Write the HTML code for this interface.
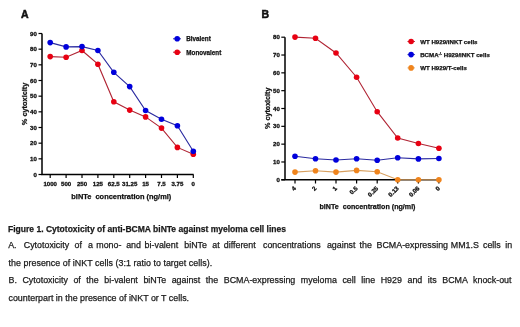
<!DOCTYPE html>
<html><head><meta charset="utf-8"><style>
html,body{margin:0;padding:0;background:#fff;width:520px;height:327px;overflow:hidden}
#wrap{position:absolute;left:0;top:0;width:520px;height:327px;filter:blur(0.3px)}
svg{position:absolute;left:0;top:0}
text{font-family:"Liberation Sans",sans-serif;fill:#111;stroke:#111;stroke-width:0.25px;paint-order:stroke}
.tk{font-size:6.1px;font-weight:bold;stroke-width:0.3px}
.pl{font-size:10.5px;font-weight:bold;stroke-width:0.5px}
.at{font-size:6.6px;font-weight:bold}
.xt{font-size:7.2px;font-weight:bold}
.lg{font-size:6.3px;font-weight:bold}
.lgb{font-size:6.15px;font-weight:bold}
.cap{position:absolute;left:8.5px;font-family:"Liberation Sans",sans-serif;font-size:8.9px;color:#1a1a1a;white-space:nowrap;line-height:10px;-webkit-text-stroke:0.25px #1a1a1a}
.j{width:503px;text-align:justify;text-align-last:justify;white-space:normal}
</style></head><body><div id="wrap">
<svg width="520" height="327" viewBox="0 0 520 327">
<path d="M42,33.5V174.5H193.6" fill="none" stroke="#000" stroke-width="1.5"/><path d="M38.5,174.50H42" stroke="#000" stroke-width="1.2"/><text x="36.9" y="176.60" text-anchor="end" class="tk">0</text><path d="M38.5,158.83H42" stroke="#000" stroke-width="1.2"/><text x="36.9" y="160.93" text-anchor="end" class="tk">10</text><path d="M38.5,143.17H42" stroke="#000" stroke-width="1.2"/><text x="36.9" y="145.27" text-anchor="end" class="tk">20</text><path d="M38.5,127.50H42" stroke="#000" stroke-width="1.2"/><text x="36.9" y="129.60" text-anchor="end" class="tk">30</text><path d="M38.5,111.83H42" stroke="#000" stroke-width="1.2"/><text x="36.9" y="113.93" text-anchor="end" class="tk">40</text><path d="M38.5,96.17H42" stroke="#000" stroke-width="1.2"/><text x="36.9" y="98.27" text-anchor="end" class="tk">50</text><path d="M38.5,80.50H42" stroke="#000" stroke-width="1.2"/><text x="36.9" y="82.60" text-anchor="end" class="tk">60</text><path d="M38.5,64.83H42" stroke="#000" stroke-width="1.2"/><text x="36.9" y="66.93" text-anchor="end" class="tk">70</text><path d="M38.5,49.17H42" stroke="#000" stroke-width="1.2"/><text x="36.9" y="51.27" text-anchor="end" class="tk">80</text><path d="M38.5,33.50H42" stroke="#000" stroke-width="1.2"/><text x="36.9" y="35.60" text-anchor="end" class="tk">90</text><path d="M50.2,174.5V178" stroke="#000" stroke-width="1.2"/><text x="50.2" y="185.6" text-anchor="middle" class="tk">1000</text><path d="M66.1,174.5V178" stroke="#000" stroke-width="1.2"/><text x="66.1" y="185.6" text-anchor="middle" class="tk">500</text><path d="M82.0,174.5V178" stroke="#000" stroke-width="1.2"/><text x="82.0" y="185.6" text-anchor="middle" class="tk">250</text><path d="M97.9,174.5V178" stroke="#000" stroke-width="1.2"/><text x="97.9" y="185.6" text-anchor="middle" class="tk">125</text><path d="M113.8,174.5V178" stroke="#000" stroke-width="1.2"/><text x="113.8" y="185.6" text-anchor="middle" class="tk">62.5</text><path d="M129.7,174.5V178" stroke="#000" stroke-width="1.2"/><text x="129.7" y="185.6" text-anchor="middle" class="tk">31.25</text><path d="M145.6,174.5V178" stroke="#000" stroke-width="1.2"/><text x="145.6" y="185.6" text-anchor="middle" class="tk">15</text><path d="M161.5,174.5V178" stroke="#000" stroke-width="1.2"/><text x="161.5" y="185.6" text-anchor="middle" class="tk">7.5</text><path d="M177.4,174.5V178" stroke="#000" stroke-width="1.2"/><text x="177.4" y="185.6" text-anchor="middle" class="tk">3.75</text><path d="M193.3,174.5V178" stroke="#000" stroke-width="1.2"/><text x="193.3" y="185.6" text-anchor="middle" class="tk">0</text><polyline points="50.2,56.6 66.1,57.2 82.0,50.5 97.9,64.2 113.8,101.8 129.7,110.1 145.6,116.9 161.5,128.1 177.4,147.4 193.3,154.2" fill="none" stroke="#b02434" stroke-width="1.1"/><circle cx="50.2" cy="56.6" r="2.8" fill="#e80012"/><circle cx="66.1" cy="57.2" r="2.8" fill="#e80012"/><circle cx="82.0" cy="50.5" r="2.8" fill="#e80012"/><circle cx="97.9" cy="64.2" r="2.8" fill="#e80012"/><circle cx="113.8" cy="101.8" r="2.8" fill="#e80012"/><circle cx="129.7" cy="110.1" r="2.8" fill="#e80012"/><circle cx="145.6" cy="116.9" r="2.8" fill="#e80012"/><circle cx="161.5" cy="128.1" r="2.8" fill="#e80012"/><circle cx="177.4" cy="147.4" r="2.8" fill="#e80012"/><circle cx="193.3" cy="154.2" r="2.8" fill="#e80012"/><polyline points="50.2,42.6 66.1,46.9 82.0,46.6 97.9,50.5 113.8,72.3 129.7,86.6 145.6,110.5 161.5,119.2 177.4,125.7 193.3,151.3" fill="none" stroke="#2a2aa0" stroke-width="1.1"/><circle cx="50.2" cy="42.6" r="2.8" fill="#0000dc"/><circle cx="66.1" cy="46.9" r="2.8" fill="#0000dc"/><circle cx="82.0" cy="46.6" r="2.8" fill="#0000dc"/><circle cx="97.9" cy="50.5" r="2.8" fill="#0000dc"/><circle cx="113.8" cy="72.3" r="2.8" fill="#0000dc"/><circle cx="129.7" cy="86.6" r="2.8" fill="#0000dc"/><circle cx="145.6" cy="110.5" r="2.8" fill="#0000dc"/><circle cx="161.5" cy="119.2" r="2.8" fill="#0000dc"/><circle cx="177.4" cy="125.7" r="2.8" fill="#0000dc"/><circle cx="193.3" cy="151.3" r="2.8" fill="#0000dc"/><text x="21" y="18" class="pl">A</text><text transform="translate(27.4,103.9) rotate(-90)" text-anchor="middle" class="at" style="font-size:7.4px" textLength="42.6" lengthAdjust="spacingAndGlyphs">% cytoxicity</text><text x="121.3" y="199.1" text-anchor="middle" class="xt" textLength="100" lengthAdjust="spacingAndGlyphs" xml:space="preserve">biNTe  concentration (ng/ml)</text><path d="M173,38.8H181" stroke="#2a2aa0" stroke-width="1"/><circle cx="177.2" cy="38.8" r="2.8" fill="#0000dc"/><path d="M173,52.2H181" stroke="#b02434" stroke-width="1"/><circle cx="177.2" cy="52.2" r="2.8" fill="#e80012"/><text x="186.3" y="41.1" class="lg">Bivalent</text><text x="186.3" y="54.5" class="lg">Monovalent</text><path d="M285,37.2V179.8M281.3,179.8H441" fill="none" stroke="#000" stroke-width="1.5"/><path d="M281.3,179.80H285" stroke="#000" stroke-width="1.2"/><text x="279.8" y="181.90" text-anchor="end" class="tk">0</text><path d="M281.3,161.98H285" stroke="#000" stroke-width="1.2"/><text x="279.8" y="164.08" text-anchor="end" class="tk">10</text><path d="M281.3,144.15H285" stroke="#000" stroke-width="1.2"/><text x="279.8" y="146.25" text-anchor="end" class="tk">20</text><path d="M281.3,126.33H285" stroke="#000" stroke-width="1.2"/><text x="279.8" y="128.43" text-anchor="end" class="tk">30</text><path d="M281.3,108.50H285" stroke="#000" stroke-width="1.2"/><text x="279.8" y="110.60" text-anchor="end" class="tk">40</text><path d="M281.3,90.67H285" stroke="#000" stroke-width="1.2"/><text x="279.8" y="92.77" text-anchor="end" class="tk">50</text><path d="M281.3,72.85H285" stroke="#000" stroke-width="1.2"/><text x="279.8" y="74.95" text-anchor="end" class="tk">60</text><path d="M281.3,55.02H285" stroke="#000" stroke-width="1.2"/><text x="279.8" y="57.12" text-anchor="end" class="tk">70</text><path d="M281.3,37.20H285" stroke="#000" stroke-width="1.2"/><text x="279.8" y="39.30" text-anchor="end" class="tk">80</text><path d="M295,179.8V183.5" stroke="#000" stroke-width="1.2"/><text transform="translate(296.5,188.8) rotate(-45)" text-anchor="end" class="tk">4</text><path d="M315.5,179.8V183.5" stroke="#000" stroke-width="1.2"/><text transform="translate(317.0,188.8) rotate(-45)" text-anchor="end" class="tk">2</text><path d="M336,179.8V183.5" stroke="#000" stroke-width="1.2"/><text transform="translate(337.5,188.8) rotate(-45)" text-anchor="end" class="tk">1</text><path d="M356.6,179.8V183.5" stroke="#000" stroke-width="1.2"/><text transform="translate(358.1,188.8) rotate(-45)" text-anchor="end" class="tk">0.5</text><path d="M377.2,179.8V183.5" stroke="#000" stroke-width="1.2"/><text transform="translate(378.7,188.8) rotate(-45)" text-anchor="end" class="tk">0.25</text><path d="M397.7,179.8V183.5" stroke="#000" stroke-width="1.2"/><text transform="translate(399.2,188.8) rotate(-45)" text-anchor="end" class="tk">0.13</text><path d="M418.4,179.8V183.5" stroke="#000" stroke-width="1.2"/><text transform="translate(419.9,188.8) rotate(-45)" text-anchor="end" class="tk">0.06</text><path d="M438.9,179.8V183.5" stroke="#000" stroke-width="1.2"/><text transform="translate(440.4,188.8) rotate(-45)" text-anchor="end" class="tk">0</text><polyline points="295,172.1 315.5,170.7 336,172.1 356.6,170.4 377.2,171.7 397.7,179.8 418.4,179.8 438.9,179.8" fill="none" stroke="#d8a060" stroke-width="1.1"/><circle cx="295" cy="172.1" r="2.8" fill="#f0841c"/><circle cx="315.5" cy="170.7" r="2.8" fill="#f0841c"/><circle cx="336" cy="172.1" r="2.8" fill="#f0841c"/><circle cx="356.6" cy="170.4" r="2.8" fill="#f0841c"/><circle cx="377.2" cy="171.7" r="2.8" fill="#f0841c"/><circle cx="397.7" cy="179.8" r="2.8" fill="#f0841c"/><circle cx="418.4" cy="179.8" r="2.8" fill="#f0841c"/><circle cx="438.9" cy="179.8" r="2.8" fill="#f0841c"/><polyline points="295,156.2 315.5,158.8 336,160 356.6,158.8 377.2,160.3 397.7,157.8 418.4,158.9 438.9,158.5" fill="none" stroke="#2a2aa0" stroke-width="1.1"/><circle cx="295" cy="156.2" r="2.8" fill="#0000dc"/><circle cx="315.5" cy="158.8" r="2.8" fill="#0000dc"/><circle cx="336" cy="160" r="2.8" fill="#0000dc"/><circle cx="356.6" cy="158.8" r="2.8" fill="#0000dc"/><circle cx="377.2" cy="160.3" r="2.8" fill="#0000dc"/><circle cx="397.7" cy="157.8" r="2.8" fill="#0000dc"/><circle cx="418.4" cy="158.9" r="2.8" fill="#0000dc"/><circle cx="438.9" cy="158.5" r="2.8" fill="#0000dc"/><polyline points="295,37.1 315.5,38.3 336,53 356.6,77.2 377.2,111.7 397.7,138 418.4,143.5 438.9,148.2" fill="none" stroke="#b02434" stroke-width="1.1"/><circle cx="295" cy="37.1" r="2.8" fill="#e80012"/><circle cx="315.5" cy="38.3" r="2.8" fill="#e80012"/><circle cx="336" cy="53" r="2.8" fill="#e80012"/><circle cx="356.6" cy="77.2" r="2.8" fill="#e80012"/><circle cx="377.2" cy="111.7" r="2.8" fill="#e80012"/><circle cx="397.7" cy="138" r="2.8" fill="#e80012"/><circle cx="418.4" cy="143.5" r="2.8" fill="#e80012"/><circle cx="438.9" cy="148.2" r="2.8" fill="#e80012"/><text x="261.4" y="18.3" class="pl">B</text><text transform="translate(270,108.25) rotate(-90)" text-anchor="middle" class="at" style="font-size:7.15px" textLength="41.3" lengthAdjust="spacingAndGlyphs">% cytoxicity</text><text x="367.5" y="209.2" text-anchor="middle" class="xt" textLength="96" lengthAdjust="spacingAndGlyphs" xml:space="preserve">biNTe  concentration (ng/ml)</text><path d="M407.5,41.5H414.9" stroke="#b02434" stroke-width="1"/><circle cx="411.1" cy="41.5" r="2.8" fill="#e80012"/><text x="420.2" y="43.7" class="lgb">WT H929/iNKT cells</text><path d="M407.5,54.6H414.9" stroke="#2a2aa0" stroke-width="1"/><circle cx="411.1" cy="54.6" r="2.8" fill="#0000dc"/><text x="420.2" y="56.800000000000004" class="lgb">BCMA<tspan dy="-2.2" font-size="3.6">-/-</tspan><tspan dy="2.2"> H929/iNKT cells</tspan></text><path d="M407.5,67.9H414.9" stroke="#d8a060" stroke-width="1"/><circle cx="411.1" cy="67.9" r="2.8" fill="#f0841c"/><text x="420.2" y="70.10000000000001" class="lgb">WT H929/T-cells</text>
</svg>
<div class="cap" style="top:223.9px;left:7.7px;font-weight:bold;font-size:9px;transform-origin:0 0;transform:scaleX(0.947)">Figure 1. Cytotoxicity of anti-BCMA biNTe against myeloma cell lines</div>
<div class="cap" style="top:240.0px;left:8.20px">A.</div><div class="cap" style="top:240.0px;left:23.75px">Cytotoxicity</div><div class="cap" style="top:240.0px;left:74.50px">of</div><div class="cap" style="top:240.0px;left:88.00px">a</div><div class="cap" style="top:240.0px;left:96.25px">mono-</div><div class="cap" style="top:240.0px;left:126.20px">and</div><div class="cap" style="top:240.0px;left:144.60px">bi-valent</div><div class="cap" style="top:240.0px;left:184.30px">biNTe</div><div class="cap" style="top:240.0px;left:212.30px">at</div><div class="cap" style="top:240.0px;left:223.80px">different</div><div class="cap" style="top:240.0px;left:263.00px">concentrations</div><div class="cap" style="top:240.0px;left:326.90px">against</div><div class="cap" style="top:240.0px;left:359.60px">the</div><div class="cap" style="top:240.0px;left:376.50px">BCMA-expressing</div><div class="cap" style="top:240.0px;left:450.80px">MM1.S</div><div class="cap" style="top:240.0px;left:483.00px">cells</div><div class="cap" style="top:240.0px;left:505.20px">in</div>
<div class="cap" style="top:257.90000000000003px;letter-spacing:0.04px">the presence of iNKT cells (3:1 ratio to target cells).</div>
<div class="cap j" style="top:275.1px">B. Cytotoxicity of the bi-valent biNTe against the BCMA-expressing myeloma cell line H929 and its BCMA knock-out</div>
<div class="cap" style="top:292.5px">counterpart in the presence of iNKT or T cells.</div>
</div></body></html>
